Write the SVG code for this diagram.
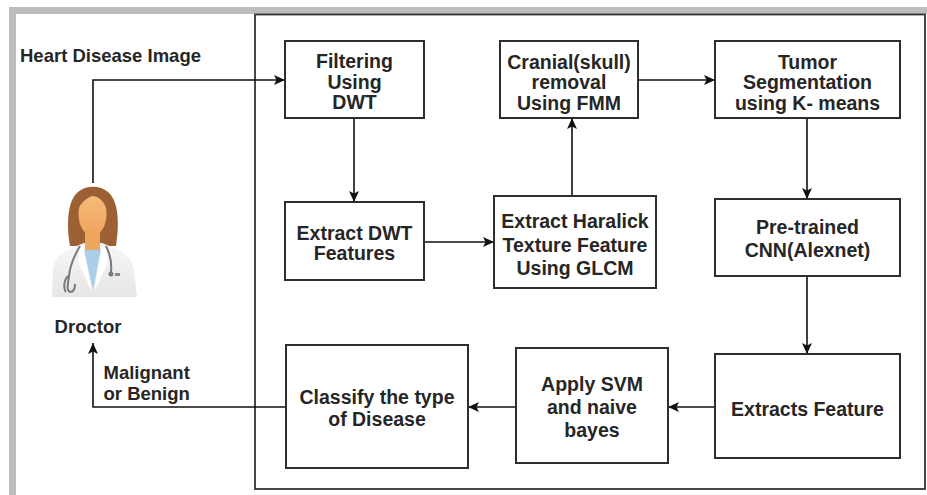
<svg xmlns="http://www.w3.org/2000/svg" width="927" height="495" viewBox="0 0 927 495">
  <defs>
    <style>
      .box { fill: #ffffff; stroke: #2e2e2e; stroke-width: 2; }
      .t { font-family: "Liberation Sans", Arial, sans-serif; font-size: 19.5px; font-weight: bold; fill: #262626; text-anchor: middle; dominant-baseline: central; }
      .lbl { font-family: "Liberation Sans", Arial, sans-serif; font-size: 18.5px; font-weight: bold; fill: #262626; }
      .edge { fill: none; stroke: #111111; stroke-width: 1.6; marker-end: url(#arrow); }
    </style>
    <marker id="arrow" markerUnits="userSpaceOnUse" markerWidth="12" markerHeight="10" refX="11" refY="5" orient="auto">
      <path d="M0,0 L11,5 L0,10 L2.5,5 z" fill="#111111"/>
    </marker>
    <linearGradient id="face" x1="0" y1="0" x2="0" y2="1">
      <stop offset="0" stop-color="#f7bd7c"/>
      <stop offset="1" stop-color="#efa35c"/>
    </linearGradient>
    <linearGradient id="coat" x1="0" y1="0" x2="0" y2="1">
      <stop offset="0" stop-color="#f7f7f7"/>
      <stop offset="1" stop-color="#e6e6e6"/>
    </linearGradient>
  </defs>

  <!-- page background and frames -->
  <rect x="0" y="0" width="927" height="495" fill="#ffffff"/>
  <rect x="12.5" y="10.5" width="930" height="495" fill="none" stroke="#bdbdbd" stroke-width="7"/>
  <rect x="255" y="14.5" width="670" height="474.5" fill="none" stroke="#333333" stroke-width="1.8"/>

  <!-- connectors -->
  <g id="connectors">
    <path class="edge" d="M93,183 L93,80 L285,80"/>
    <path class="edge" d="M354,118 L354,202"/>
    <path class="edge" d="M424,242 L494,242"/>
    <path class="edge" d="M572,196 L572,118"/>
    <path class="edge" d="M638,80 L715,80"/>
    <path class="edge" d="M807,118 L807,199"/>
    <path class="edge" d="M807,276 L807,354"/>
    <path class="edge" d="M715,407 L668,407"/>
    <path class="edge" d="M516,407 L468,407"/>
    <path class="edge" d="M286,407 L93,407 L93,343"/>
  </g>

  <!-- free labels -->
  <g id="label-input">
    <text class="lbl" x="20" y="61.5">Heart Disease Image</text>
  </g>
  <g id="label-output">
    <text class="lbl" x="103.5" y="379">Malignant</text>
    <text class="lbl" x="103.5" y="400">or Benign</text>
  </g>

  <!-- doctor -->
  <g id="doctor">
    <!-- hair behind -->
    <path d="M70,246 C66,222 68,200 78,192 C86,185 100,185 108,192 C118,200 120,222 116,246 Z" fill="#9c6035"/>
    <!-- coat -->
    <path d="M52,297 L53,270 C54,258 62,251 74,247 L84,243 L102,243 L112,247 C124,251 132,258 134,270 L137,297 Z" fill="url(#coat)"/>
    <!-- neck -->
    <rect x="85" y="228" width="15" height="22" fill="#eda660"/>
    <!-- blue shirt -->
    <path d="M84,250 L101,250 L93,290 Z" fill="#a9cfea"/>
    <!-- lapels -->
    <path d="M80,246 L84,250 L92,292 L78,262 Z" fill="#ffffff"/>
    <path d="M106,246 L101,250 L94,292 L108,262 Z" fill="#ffffff"/>
    <!-- face -->
    <ellipse cx="92.5" cy="214" rx="14" ry="22" fill="url(#face)"/>
    <!-- fringe -->
    <path d="M78,210 C78,196 86,189 93,189 C102,189 108,196 108,212 C104,200 98,196 92,196 C86,198 80,204 78,210 Z" fill="#9c6035"/>
    <!-- stethoscope -->
    <path d="M80,246 C74,256 70,266 69,276 C68,284 66,290 70,292 C74,292 75,288 75,284" fill="none" stroke="#7a7a7a" stroke-width="2"/>
    <path d="M69,276 C64,278 63,288 66,292" fill="none" stroke="#7a7a7a" stroke-width="2"/>
    <path d="M106,246 C110,254 112,262 111,272" fill="none" stroke="#7a7a7a" stroke-width="2"/>
    <circle cx="111" cy="274" r="2.5" fill="#7a7a7a"/>
    <rect x="115" y="273" width="5" height="3" fill="#888888"/>
    <text class="lbl" x="88" y="332.5" text-anchor="middle">Droctor</text>
  </g>

  <!-- process nodes -->
  <g id="filtering">
    <rect class="box" x="285" y="41" width="139" height="77"/>
    <text class="t" x="354.5" y="61">Filtering</text>
    <text class="t" x="354.5" y="81.5">Using</text>
    <text class="t" x="354.5" y="102">DWT</text>
  </g>
  <g id="cranial">
    <rect class="box" x="500" y="41" width="138" height="77"/>
    <text class="t" x="569" y="62">Cranial(skull)</text>
    <text class="t" x="569" y="82">removal</text>
    <text class="t" x="569" y="103">Using FMM</text>
  </g>
  <g id="tumor">
    <rect class="box" x="715" y="41" width="185" height="77"/>
    <text class="t" x="807.5" y="62">Tumor</text>
    <text class="t" x="807.5" y="82">Segmentation</text>
    <text class="t" x="807.5" y="103">using K- means</text>
  </g>
  <g id="dwt-features">
    <rect class="box" x="285" y="202" width="139" height="78"/>
    <text class="t" x="354.5" y="233">Extract DWT</text>
    <text class="t" x="354.5" y="253">Features</text>
  </g>
  <g id="haralick">
    <rect class="box" x="494" y="196" width="162" height="92"/>
    <text class="t" x="575" y="221">Extract Haralick</text>
    <text class="t" x="575" y="245">Texture Feature</text>
    <text class="t" x="575" y="268">Using GLCM</text>
  </g>
  <g id="cnn">
    <rect class="box" x="715" y="199" width="185" height="77"/>
    <text class="t" x="807.5" y="227">Pre-trained</text>
    <text class="t" x="807.5" y="250">CNN(Alexnet)</text>
  </g>
  <g id="extracts">
    <rect class="box" x="715" y="354" width="185" height="104"/>
    <text class="t" x="807.5" y="409">Extracts Feature</text>
  </g>
  <g id="svm">
    <rect class="box" x="516" y="348" width="152" height="115"/>
    <text class="t" x="592" y="384">Apply SVM</text>
    <text class="t" x="592" y="407">and naive</text>
    <text class="t" x="592" y="430">bayes</text>
  </g>
  <g id="classify">
    <rect class="box" x="286" y="345" width="182" height="123"/>
    <text class="t" x="377" y="397">Classify the type</text>
    <text class="t" x="377" y="419">of Disease</text>
  </g>
</svg>
